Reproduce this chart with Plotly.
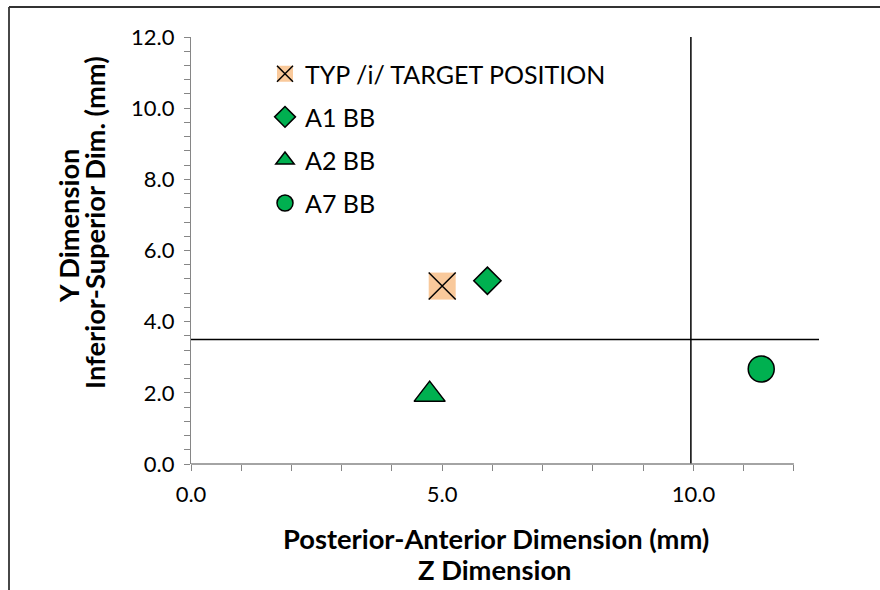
import plotly.graph_objects as go

# ---------------- data ----------------
series_names = ["TYP /i/ TARGET POSITION", "A1 BB", "A2 BB", "A7 BB"]
target_x = [5.0]
target_y = [5.0]
a1_x = [5.9]
a1_y = [5.15]
a2_x = [4.75]
a2_y = [1.95]
a7_x = [11.35]
a7_y = [2.67]

hline_x = [0.0, 12.5]
hline_y = [3.5, 3.5]
vline_x = [9.95, 9.95]
vline_y = [0.0, 12.0]

x_tick_vals = [0, 1, 2, 3, 4, 5, 6, 7, 8, 9, 10, 11, 12]
x_tick_text = ["0.0", "", "", "", "", "5.0", "", "", "", "", "10.0", "", ""]
y_tick_vals = [0.0, 0.4, 0.8, 1.2, 1.6, 2.0, 2.4, 2.8, 3.2, 3.6, 4.0, 4.4, 4.8, 5.2, 5.6,
               6.0, 6.4, 6.8, 7.2, 7.6, 8.0, 8.4, 8.8, 9.2, 9.6, 10.0, 10.4, 10.8, 11.2,
               11.6, 12.0]
y_tick_text = ["0.0", "", "", "", "", "2.0", "", "", "", "", "4.0", "", "", "", "",
               "6.0", "", "", "", "", "8.0", "", "", "", "", "10.0", "", "", "", "", "12.0"]
x_axis_end = 12.0

x_title_lines = ["Posterior-Anterior Dimension (mm)", "Z Dimension"]
y_title_lines = ["Y Dimension", "Inferior-Superior Dim. (mm)"]

# ---------------- styling ----------------
W, H = 880, 590
ML, MR, MT, MB = 191, 61, 37, 126
PW, PH = W - ML - MR, H - MT - MB
FONT = "Lato"
GREEN = "#00B050"
PEACH = "#F9C99B"
AXIS_GRAY = "#868686"
TITLE_SIZE = 27.3


def px_x(p):
    return (p - ML) / PW


def px_y(p):
    return (H - MB - p) / PH


fig = go.Figure()

# reference lines
fig.add_trace(go.Scatter(x=hline_x, y=hline_y, mode="lines",
                         line=dict(color="black", width=1.5),
                         showlegend=False, hoverinfo="skip", cliponaxis=False))
fig.add_trace(go.Scatter(x=vline_x, y=vline_y, mode="lines",
                         line=dict(color="black", width=1.5),
                         showlegend=False, hoverinfo="skip", cliponaxis=False))

# target (square + X overlay)
fig.add_trace(go.Scatter(x=target_x, y=target_y, mode="markers", name=series_names[0],
                         legendgroup="g0", legend="legend",
                         marker=dict(symbol="square", size=27, color=PEACH,
                                     line=dict(width=0)), cliponaxis=False))
fig.add_trace(go.Scatter(x=target_x, y=target_y, mode="markers", name=series_names[0],
                         legendgroup="g0x", legend="legend2",
                         marker=dict(symbol="x-thin-open", size=27, color="black",
                                     line=dict(width=1.5, color="black")),
                         cliponaxis=False))
fig.add_trace(go.Scatter(x=a1_x, y=a1_y, mode="markers", name=series_names[1],
                         legendgroup="g1", legend="legend",
                         marker=dict(symbol="diamond", size=21, color=GREEN,
                                     line=dict(width=1.5, color="black")),
                         cliponaxis=False))
fig.add_trace(go.Scatter(x=a2_x, y=a2_y, mode="markers", name=series_names[2],
                         legendgroup="g2", legend="legend",
                         marker=dict(symbol="triangle-up", size=27, color=GREEN,
                                     line=dict(width=1.5, color="black")),
                         cliponaxis=False))
fig.add_trace(go.Scatter(x=a7_x, y=a7_y, mode="markers", name=series_names[3],
                         legendgroup="g3", legend="legend",
                         marker=dict(symbol="circle", size=26, color=GREEN,
                                     line=dict(width=1.5, color="black")),
                         cliponaxis=False))

shapes = [
    # x axis line (ends at 12 while the range extends a bit further)
    dict(type="line", xref="x", yref="paper", x0=0, x1=x_axis_end, y0=0, y1=0,
         line=dict(color=AXIS_GRAY, width=1.3), layer="above"),
    # chart border (top and left edges visible)
    dict(type="line", xref="paper", yref="paper",
         x0=px_x(9), x1=px_x(W), y0=px_y(7), y1=px_y(7),
         line=dict(color="#333333", width=1.8)),
    dict(type="line", xref="paper", yref="paper",
         x0=px_x(9), x1=px_x(9), y0=px_y(7), y1=px_y(H),
         line=dict(color="#333333", width=1.8)),
]

annotations = [
    dict(text="<b>%s</b>" % x_title_lines[0], xref="paper", yref="paper",
         x=px_x(496), y=px_y(538), xanchor="center", yanchor="middle", showarrow=False,
         font=dict(family=FONT, size=TITLE_SIZE, color="black")),
    dict(text="<b>%s</b>" % x_title_lines[1], xref="paper", yref="paper",
         x=px_x(494), y=px_y(569), xanchor="center", yanchor="middle", showarrow=False,
         font=dict(family=FONT, size=TITLE_SIZE, color="black")),
    dict(text="<b>%s</b>" % y_title_lines[0], xref="paper", yref="paper",
         x=px_x(68), y=px_y(225), xanchor="center", yanchor="middle", showarrow=False,
         textangle=-90, font=dict(family=FONT, size=TITLE_SIZE, color="black")),
    dict(text="<b>%s</b>" % y_title_lines[1], xref="paper", yref="paper",
         x=px_x(94), y=px_y(223), xanchor="center", yanchor="middle", showarrow=False,
         textangle=-90, font=dict(family=FONT, size=TITLE_SIZE, color="black")),
]

legend_common = dict(x=px_x(265), y=px_y(51), xanchor="left", yanchor="top",
                     bgcolor="rgba(0,0,0,0)", borderwidth=0, tracegroupgap=7.6,
                     itemsizing="trace")

fig.update_layout(
    width=W, height=H, autosize=False,
    margin=dict(l=ML, r=MR, t=MT, b=MB, pad=0),
    paper_bgcolor="white", plot_bgcolor="white",
    font=dict(family=FONT, size=22, color="black"),
    showlegend=True,
    legend=dict(font=dict(family=FONT, size=25, color="black"), **legend_common),
    legend2=dict(font=dict(family=FONT, size=25, color="rgba(0,0,0,0)"), **legend_common),
    xaxis=dict(range=[0, 12.5], tickmode="array", tickvals=x_tick_vals, ticktext=x_tick_text,
               ticks="outside", ticklen=6, tickwidth=1.3, tickcolor=AXIS_GRAY,
               showline=False, showgrid=False, zeroline=False,
               tickfont=dict(family=FONT, size=22, color="black"), ticklabelstandoff=5),
    yaxis=dict(range=[0, 12], tickmode="array", tickvals=y_tick_vals, ticktext=y_tick_text,
               ticks="outside", ticklen=6, tickwidth=1.3, tickcolor=AXIS_GRAY,
               showline=True, linecolor=AXIS_GRAY, linewidth=1.3,
               showgrid=False, zeroline=False,
               tickfont=dict(family=FONT, size=22, color="black"), ticklabelstandoff=5),
    shapes=shapes,
    annotations=annotations,
)

fig.write_html("out.html")
